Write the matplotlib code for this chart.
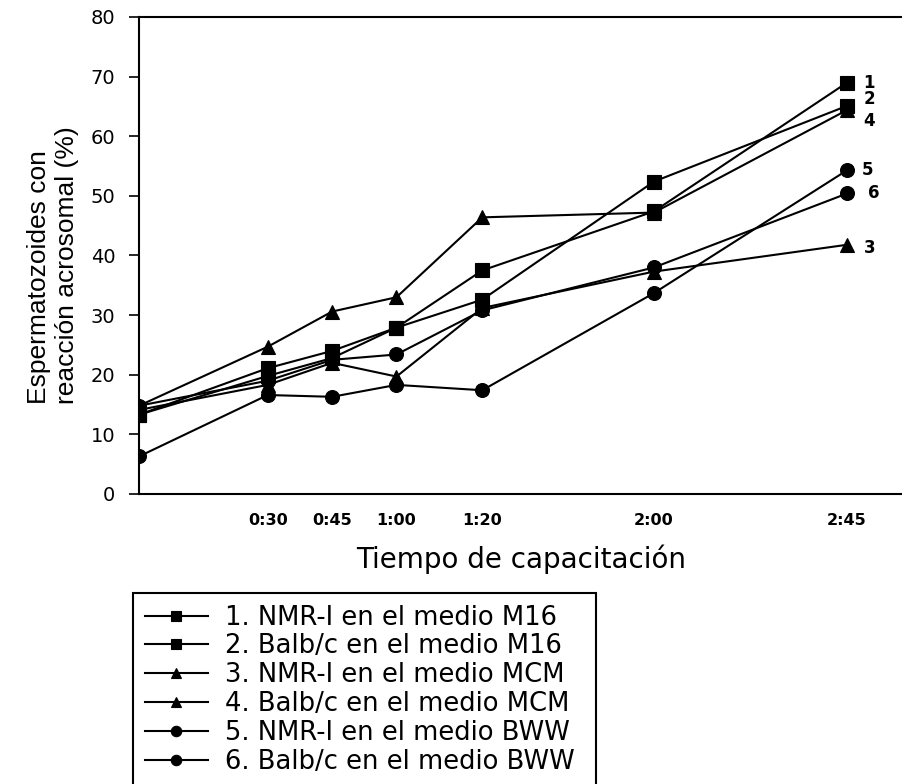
import matplotlib
matplotlib.use('Agg')
import matplotlib.pyplot as plt

# tiempo de capacitacion (minutos) y etiquetas
minutes = [0, 30, 45, 60, 80, 120, 165]
tick_pos = [30, 45, 60, 80, 120, 165]
tick_labels = ['0:30', '0:45', '1:00', '1:20', '2:00', '2:45']

# % espermatozoides con reaccion acrosomal
nmr_m16 = [13.3, 21.1, 24.0, 27.9, 37.5, 47.4, 69.0]
balb_m16 = [13.3, 19.8, 22.8, 27.9, 32.6, 52.4, 65.1]
nmr_mcm = [14.1, 18.3, 22.0, 19.7, 31.2, 37.3, 41.8]
balb_mcm = [14.8, 24.7, 30.6, 33.0, 46.4, 47.2, 64.4]
nmr_bww = [6.3, 16.6, 16.3, 18.3, 17.4, 33.7, 54.3]
balb_bww = [14.8, 19.0, 22.5, 23.4, 30.8, 38.0, 50.4]

series = [nmr_m16, balb_m16, nmr_mcm, balb_mcm, nmr_bww, balb_bww]
labels = ['1. NMR-I en el medio M16', '2. Balb/c en el medio M16',
          '3. NMR-I en el medio MCM', '4. Balb/c en el medio MCM',
          '5. NMR-I en el medio BWW', '6. Balb/c en el medio BWW']
markers = ['s', 's', '^', '^', 'o', 'o']
end_tags = ['1', '2', '3', '4', '5', '6']
# offsets (points) of the number tags at the last point
tag_offsets = [(16, 0), (16, 5), (16, -2), (16, -8), (15, 0), (19, 0)]

W, H = 902, 784
fig = plt.figure(figsize=(W / 100, H / 100), dpi=100)
ax = fig.add_axes([139 / W, 1 - 494 / H, (W - 139) / W, (494 - 17) / H])

for vals, lab, mk in zip(series, labels, markers):
    ms = 9.5 if mk == 's' else 10
    ax.plot(minutes, vals, color='black', lw=1.5, marker=mk, ms=ms,
            mfc='black', mec='black', mew=0.8, label=lab)

for vals, tag, off in zip(series, end_tags, tag_offsets):
    ax.annotate(tag, xy=(minutes[-1], vals[-1]), xytext=off,
                textcoords='offset points', ha='center', va='center',
                fontsize=12, fontweight='bold', family='DejaVu Sans')

ax.set_xlim(0, 177.8)
ax.set_ylim(0, 80)
ax.set_yticks(range(0, 81, 10))
ax.set_xticks(tick_pos)
ax.set_xticklabels(tick_labels, fontsize=11.5, fontweight='bold', family='DejaVu Sans')
ax.tick_params(axis='x', length=0, pad=14)
ax.tick_params(axis='y', direction='out', length=7, width=1.2, pad=10, labelsize=14)
for lbl in ax.get_yticklabels():
    lbl.set_family('DejaVu Sans')

for side in ['left', 'top', 'bottom']:
    ax.spines[side].set_linewidth(1.5)
ax.spines['right'].set_visible(False)

fig.text(53 / W, 1 - 265 / H, 'Espermatozoides con\nreacción acrosomal (%)',
         rotation=90, ha='center', va='center', multialignment='left',
         fontsize=19, family='Liberation Sans', linespacing=1.22)
fig.text(521 / W, 1 - 559 / H, 'Tiempo de capacitación',
         ha='center', va='center', fontsize=20, family='DejaVu Sans')

leg = fig.legend(loc='upper left',
                 bbox_to_anchor=(133 / W, 1 - 593 / H, 463 / W, 0),
                 bbox_transform=fig.transFigure, borderaxespad=0, mode='expand',
                 prop={'family': 'DejaVu Sans', 'size': 18.6},
                 labelspacing=0.11, handlelength=2.45, handletextpad=0.65,
                 borderpad=0.45, fancybox=False, framealpha=1, markerscale=0.75)
leg.get_frame().set_edgecolor('black')
leg.get_frame().set_linewidth(1.5)

fig.savefig('out.png', dpi=100)
